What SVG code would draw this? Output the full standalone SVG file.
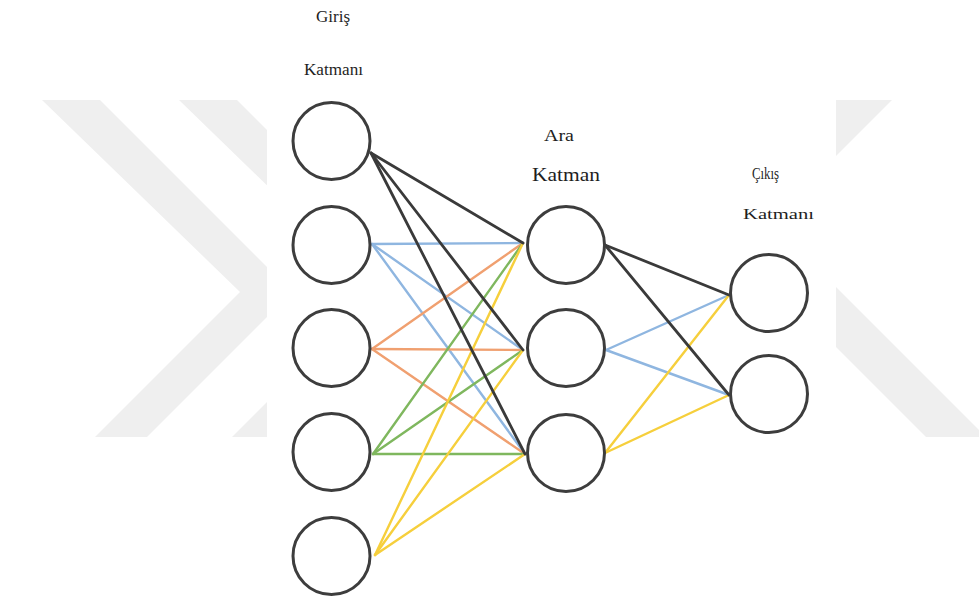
<svg xmlns="http://www.w3.org/2000/svg" width="979" height="599" viewBox="0 0 979 599">
<style>
.bg{fill:#efefef}
.node{fill:#ffffff;stroke:#3d3d3d;stroke-width:3}
.e{fill:none;stroke-width:2.4;stroke-linecap:round}
.k{stroke:#3a3a3a;stroke-width:2.8}
.b{stroke:#8fb6e0}
.o{stroke:#f0a070}
.g{stroke:#7fb75e}
.y{stroke:#f6cf3c}
text{font-family:"Liberation Serif","DejaVu Serif","Times New Roman",serif;fill:#1e1e1e}
</style>
<rect width="979" height="599" fill="#ffffff"/>
<g id="watermark">
<polygon class="bg" points="42,100 100,100 292,292 147,437 95,437 240,292"/>
<polygon class="bg" points="179,100 237,100 429,292 284,437 232,437 377,292"/>
<polygon class="bg" points="812,100 892,100 750,242 670,242"/>
<polygon class="bg" points="760,211 990,441 990,437 926,437 700,211"/>
<rect x="267" y="0" width="569" height="599" fill="#ffffff"/>
</g>
<g id="connectors">
<line class="e b" x1="372" y1="244" x2="523" y2="243"/>
<line class="e b" x1="372" y1="244" x2="523" y2="350"/>
<line class="e b" x1="372" y1="244" x2="525" y2="454"/>
<line class="e o" x1="372" y1="349" x2="523" y2="243"/>
<line class="e o" x1="372" y1="349" x2="523" y2="350"/>
<line class="e o" x1="372" y1="349" x2="525" y2="454"/>
<line class="e g" x1="373" y1="454" x2="523" y2="243"/>
<line class="e g" x1="373" y1="454" x2="523" y2="350"/>
<line class="e g" x1="373" y1="454" x2="525" y2="454"/>
<line class="e y" x1="375" y1="555" x2="523" y2="243"/>
<line class="e y" x1="375" y1="555" x2="523" y2="350"/>
<line class="e y" x1="375" y1="555" x2="525" y2="454"/>
<line class="e k" x1="371" y1="153" x2="523" y2="243"/>
<line class="e k" x1="371" y1="153" x2="523" y2="350"/>
<line class="e k" x1="371" y1="153" x2="525" y2="454"/>
<line class="e b" x1="606" y1="350" x2="729" y2="295"/>
<line class="e b" x1="606" y1="350" x2="729" y2="395"/>
<line class="e y" x1="605" y1="453" x2="729" y2="295"/>
<line class="e y" x1="605" y1="453" x2="729" y2="395"/>
<line class="e k" x1="605" y1="245" x2="729" y2="295"/>
<line class="e k" x1="605" y1="245" x2="729" y2="395"/>
</g>
<g id="label-input">
<text x="316" y="22" font-size="16" textLength="34" lengthAdjust="spacingAndGlyphs">Giriş</text>
<text x="304" y="75" font-size="16" textLength="59" lengthAdjust="spacingAndGlyphs">Katmanı</text>
</g>
<g id="label-hidden">
<text x="544" y="141" font-size="17" textLength="30" lengthAdjust="spacingAndGlyphs">Ara</text>
<text x="532" y="181" font-size="18" textLength="68" lengthAdjust="spacingAndGlyphs">Katman</text>
</g>
<g id="label-output">
<text x="752" y="179" font-size="16" textLength="27" lengthAdjust="spacingAndGlyphs">Çıkış</text>
<text x="743" y="219" font-size="15" textLength="71" lengthAdjust="spacingAndGlyphs">Katmanı</text>
</g>
<g id="in1"><circle class="node" cx="331.5" cy="141" r="38.5"/></g>
<g id="in2"><circle class="node" cx="331.5" cy="245" r="38.5"/></g>
<g id="in3"><circle class="node" cx="331.5" cy="348" r="38.5"/></g>
<g id="in4"><circle class="node" cx="331.5" cy="452" r="38.5"/></g>
<g id="in5"><circle class="node" cx="331.5" cy="556" r="38.5"/></g>
<g id="h1"><circle class="node" cx="566" cy="245" r="38.5"/></g>
<g id="h2"><circle class="node" cx="566" cy="348" r="38.5"/></g>
<g id="h3"><circle class="node" cx="566" cy="453" r="38.5"/></g>
<g id="out1"><circle class="node" cx="769" cy="293" r="38.5"/></g>
<g id="out2"><circle class="node" cx="769" cy="394" r="38.5"/></g>
</svg>
